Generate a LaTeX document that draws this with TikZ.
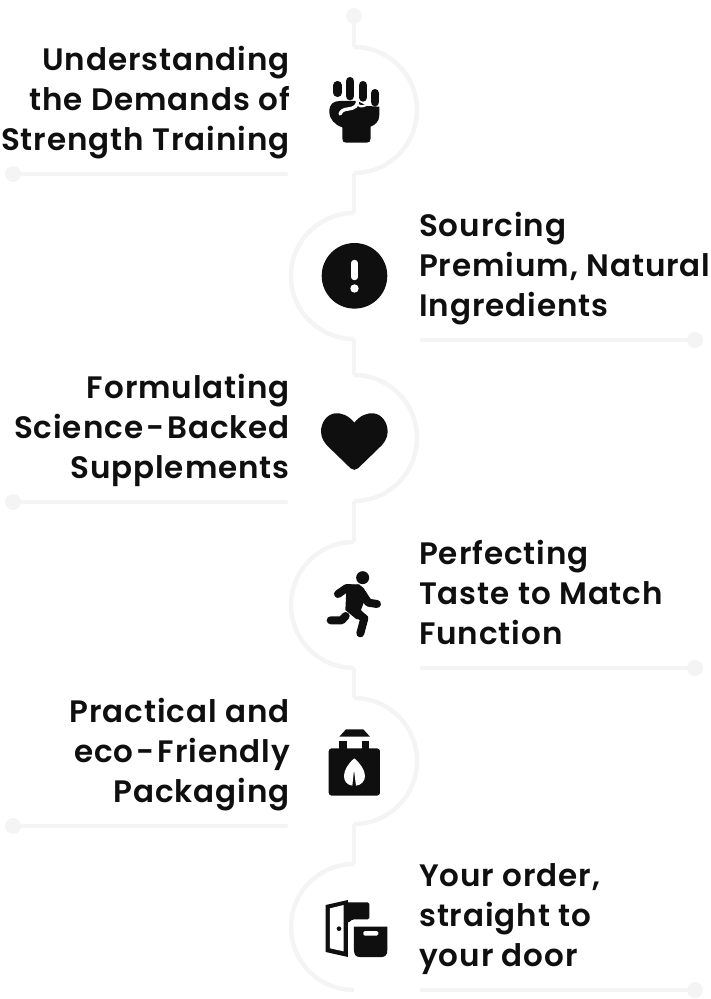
\documentclass[tikz,border=0pt]{standalone}
\usepackage{fontspec}
\setmainfont[LetterSpace=3.0,BoldFont={Poppins SemiBold}]{Poppins}
\definecolor{ink}{HTML}{0F0F10}
\definecolor{rail}{HTML}{F4F4F4}
\tikzset{
  railline/.style={draw=rail,line width=4.5pt},
  raildot/.style={circle,fill=rail,draw=none,minimum size=16pt,inner sep=0pt},
  lefttext/.style={anchor=north east,align=right,inner sep=0pt,text=ink,font=\fontsize{31}{40}\selectfont\bfseries},
  righttext/.style={anchor=north west,align=left,inner sep=0pt,text=ink,font=\fontsize{31}{40}\selectfont\bfseries},
  icon/.style={fill=ink,draw=none},
  cutout/.style={fill=white,draw=none},
  limb/.style={draw=ink,line cap=round,line join=round}
}
\newcommand{\fs}{\rule{0pt}{24pt}}
\newcommand{\hy}{\kern3pt-\kern3pt}
\begin{document}
\begin{tikzpicture}[x=1pt,y=-1pt]
\useasboundingbox (0,0) rectangle (710,999);
% rail
\node[raildot] (top) at (354,16) {};
\coordinate (a1) at (354,47); \coordinate (b1) at (354,173);
\coordinate (a2) at (354,213); \coordinate (b2) at (354,339);
\coordinate (a3) at (354,375); \coordinate (b3) at (354,501);
\coordinate (a4) at (354,542); \coordinate (b4) at (354,668);
\coordinate (a5) at (354,698); \coordinate (b5) at (354,824);
\coordinate (a6) at (354,864); \coordinate (b6) at (354,990);
\draw[railline] (top) -- (a1);
\draw[railline] (a1) arc[start angle=90,end angle=-90,radius=63pt];
\draw[railline] (b1) -- (a2);
\draw[railline] (a2) arc[start angle=90,end angle=270,radius=63pt];
\draw[railline] (b2) -- (a3);
\draw[railline] (a3) arc[start angle=90,end angle=-90,radius=63pt];
\draw[railline] (b3) -- (a4);
\draw[railline] (a4) arc[start angle=90,end angle=270,radius=63pt];
\draw[railline] (b4) -- (a5);
\draw[railline] (a5) arc[start angle=90,end angle=-90,radius=63pt];
\draw[railline] (b5) -- (a6);
\draw[railline] (a6) arc[start angle=90,end angle=270,radius=63pt];
% horizontal rules
\node[raildot] (d1) at (13,174) {};  \coordinate (e1) at (286,174);
\node[raildot] (d2) at (695,340) {}; \coordinate (e2) at (422,340);
\node[raildot] (d3) at (13,502) {};  \coordinate (e3) at (286,502);
\node[raildot] (d4) at (695,668) {}; \coordinate (e4) at (422,668);
\node[raildot] (d5) at (13,826) {};  \coordinate (e5) at (286,826);
\node[raildot] (d6) at (695,990) {}; \coordinate (e6) at (422,990);
\foreach \i in {1,...,6} {\draw[railline,line cap=round] (d\i) -- (e\i);}
% text
\node[lefttext] (t1) at (290,46) {\fs Understanding\\the Demands of\\Strength Training};
\node[righttext] (t2) at (419,212) {\fs Sourcing\\Premium, Natural\\Ingredients};
\node[lefttext] (t3) at (290,374) {\fs Formulating\\Science\hy Backed\\Supplements};
\node[righttext] (t4) at (419,540) {\fs Perfecting\\Taste to Match\\Function};
\node[lefttext] (t5) at (290,698) {\fs Practical and\\eco\hy Friendly\\Packaging};
\node[righttext] (t6) at (419,862) {\fs Your order,\\straight to\\your door};
% fist
\begin{scope}[shift={(280,0)},x=0.3333pt,y=-0.3333pt]
  \foreach \xa/\ya/\yb in {173/256/278, 210/244/288, 249/256/292, 285/280/306} {
    \draw[limb,line width=8.8pt] (\xa,\ya) -- (\xa,\yb);
  }
  \fill[icon] (148,335) .. controls (148,312) and (160,303) .. (180,303) -- (232,303) -- (262,318) -- (298,320)
    -- (298,345) .. controls (298,365) and (285,375) .. (272,380) -- (272,415) .. controls (272,424) and (268,428) .. (260,428)
    -- (198,428) .. controls (190,428) and (187,424) .. (187,415) -- (187,382) .. controls (165,375) and (148,358) .. (148,335) -- cycle;
  \draw[white,line width=3.4pt,line cap=round] (232,298) .. controls (236,318) and (222,325) .. (205,327) .. controls (192,328) and (184,332) .. (180,342);
  \draw[white,line width=2.2pt,line cap=round] (236,316) .. controls (243,322) and (255,318) .. (263,312);
\end{scope}
% exclamation
\fill[icon] (354.5,275.8) circle[radius=32.8pt];
\draw[white,line width=6.4pt,line cap=round] (354.5,263) -- (354.5,277);
\fill[cutout] (354.5,288.5) circle[radius=4.2pt];
% heart
\begin{scope}[shift={(280,370)},x=0.3333pt,y=-0.3333pt]
  \fill[icon] (223,158) .. controls (205,135) and (182,128) .. (165,130)
    .. controls (140,133) and (123,158) .. (123,185)
    .. controls (123,205) and (135,222) .. (150,235)
    -- (212,295) .. controls (219,301) and (227,301) .. (234,295)
    -- (296,235) .. controls (311,222) and (323,205) .. (323,185)
    .. controls (323,158) and (306,133) .. (281,130)
    .. controls (264,128) and (241,135) .. (223,158) -- cycle;
\end{scope}
% runner
\begin{scope}[shift={(280,530)},x=0.3333pt,y=-0.3333pt]
  \fill[icon] (248,143) circle[radius=19.5];
  \draw[limb,line width=8pt] (174,192) -- (200,174) -- (235,176);
  \draw[limb,line width=8pt] (240,180) -- (265,218) -- (291,222);
  \fill[icon] (200,165) -- (238,163) -- (256,205) -- (243,240) -- (265,262) -- (230,268) -- (196,240) -- cycle;
  \draw[limb,line width=8pt] (222,245) -- (253,265) -- (241,310);
  \draw[limb,line width=8pt] (152,271) -- (185,271) -- (197,258);
\end{scope}
% bag
\begin{scope}[shift={(280,690)},x=0.3333pt,y=-0.3333pt]
  \fill[icon] (178,140) -- (198,118) -- (250,118) -- (270,140) -- cycle;
  \fill[icon] (178,153) rectangle (200,180);
  \fill[icon] (245,153) rectangle (268,180);
  \fill[icon,rounded corners=3pt] (146,175) rectangle (300,317);
  \fill[cutout] (223,205) .. controls (205,220) and (192,240) .. (192,258)
    .. controls (192,272) and (200,285) .. (217,287) -- (222,240) -- (228,287)
    .. controls (245,285) and (255,272) .. (255,258)
    .. controls (255,240) and (240,220) .. (223,205) -- cycle;
\end{scope}
% door and box
\begin{scope}[shift={(280,850)},x=0.3333pt,y=-0.3333pt]
  \fill[icon,rounded corners=1.5pt] (196,157) -- (268,157) -- (268,208) -- (218,208) -- (205,218) -- (196,218) -- cycle;
  \fill[icon] (137,165) -- (204,150) -- (204,321) -- (137,306) -- cycle;
  \fill[cutout] (150,175) -- (191,165) -- (191,304) -- (150,295) -- cycle;
  \fill[icon] (177,236) circle[radius=7];
  \fill[icon] (222,230) -- (322,230) -- (322,300) .. controls (322,315) and (315,321) .. (305,321) -- (240,321) .. controls (228,321) and (222,315) .. (222,300) -- cycle;
  \fill[cutout,rounded corners=1.5pt] (250,243) rectangle (295,257);
\end{scope}
\end{tikzpicture}
\end{document}
